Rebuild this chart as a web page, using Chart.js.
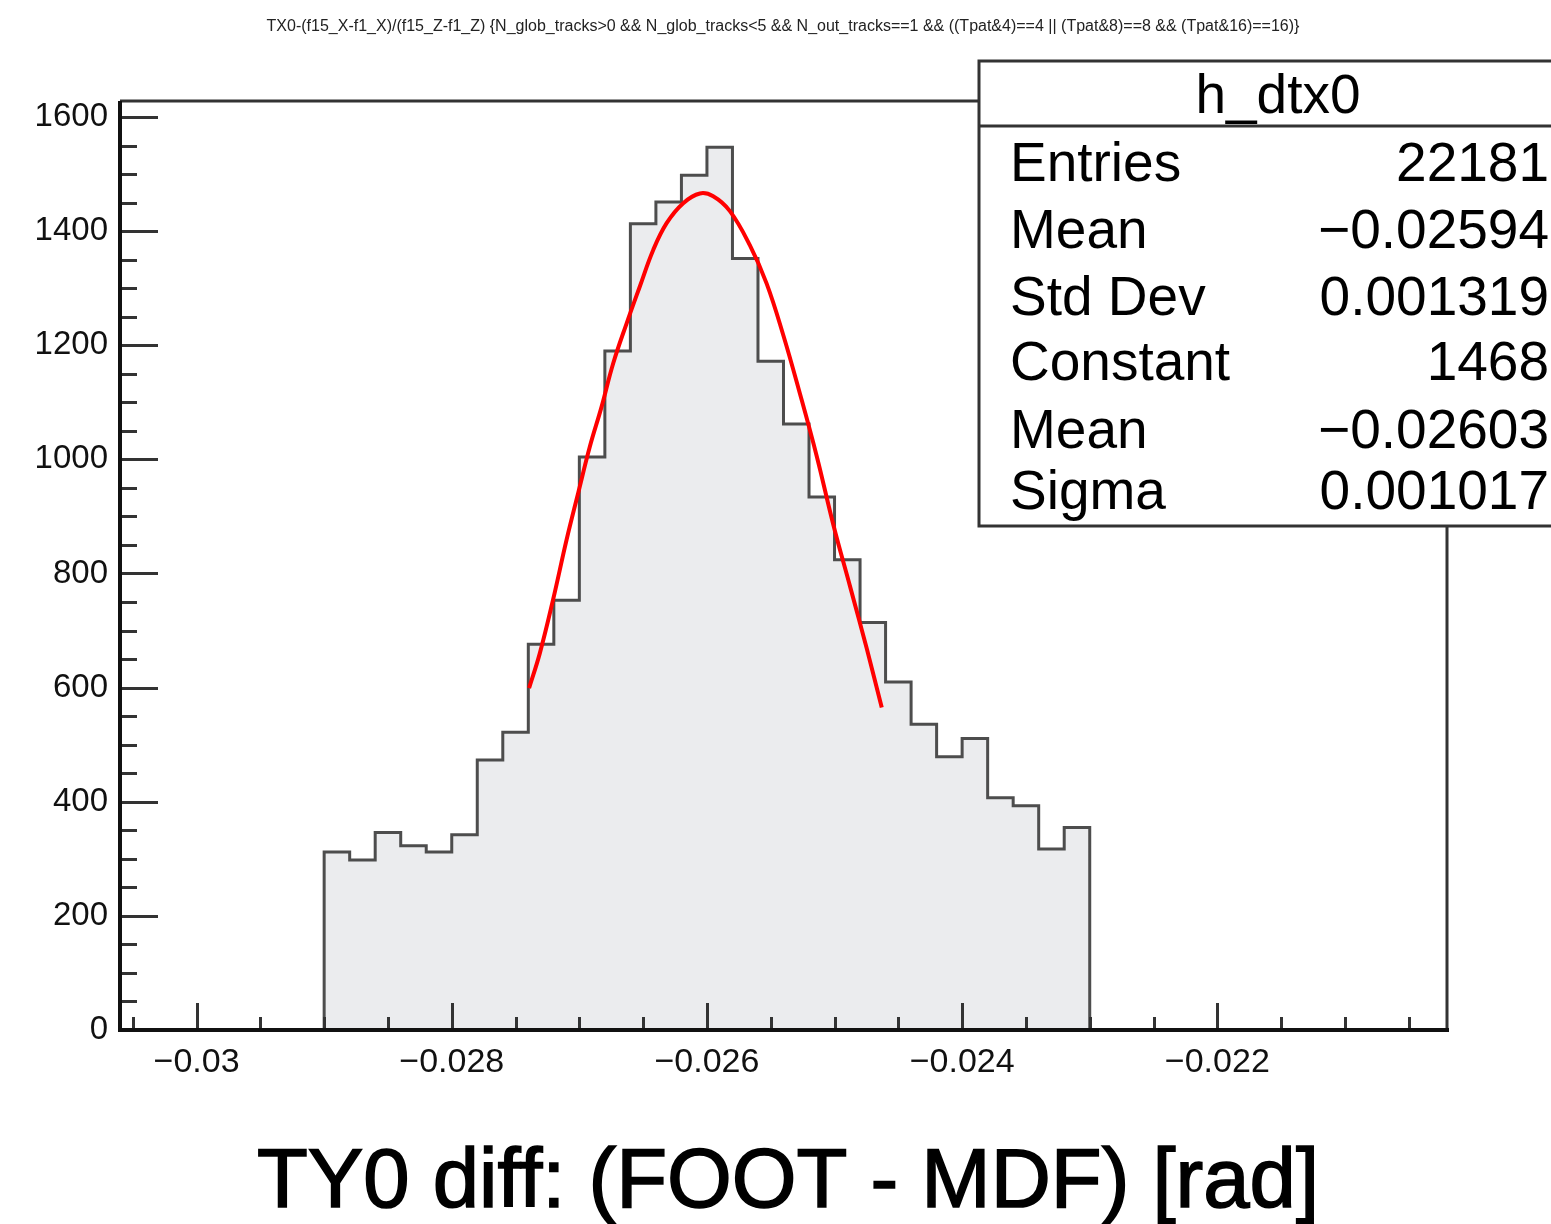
<!DOCTYPE html>
<html>
<head>
<meta charset="utf-8">
<script src="https://cdn.jsdelivr.net/npm/chart.js@4.4.1/dist/chart.umd.min.js"></script>
<style>
  body { margin: 0; background: #fff; }
  #wrap { width: 1551px; height: 1224px; }
</style>
</head>
<body>
<div id="wrap"><canvas id="grafico" width="1551" height="1224"></canvas></div>
<script>
// bin edges of h_dtx0 (bin width 0.0002)
const binEdges = [-0.0290, -0.0288, -0.0286, -0.0284, -0.0282, -0.0280, -0.0278, -0.0276, -0.0274, -0.0272,
                  -0.0270, -0.0268, -0.0266, -0.0264, -0.0262, -0.0260, -0.0258, -0.0256, -0.0254, -0.0252,
                  -0.0250, -0.0248, -0.0246, -0.0244, -0.0242, -0.0240, -0.0238, -0.0236, -0.0234, -0.0232, -0.0230];
const binCounts = [312, 298, 346, 323, 312, 342, 473, 522, 676, 753,
                   1004, 1190, 1413, 1451, 1498, 1547, 1352, 1172, 1062, 934,
                   824, 714, 610, 536, 479, 511, 407, 393, 317, 355];

// red gaussian fit
const fitX = [-0.027394, -0.027310, -0.027206, -0.027100, -0.027009, -0.026918, -0.026826, -0.026735,
              -0.026630, -0.026526, -0.026421, -0.026316, -0.026186, -0.026055, -0.025951, -0.025820,
              -0.025663, -0.025532, -0.025402, -0.025271, -0.025140, -0.025009, -0.024878, -0.024747,
              -0.024630];
const fitY = [599, 660, 754, 859, 941, 1022, 1092, 1168,
              1238, 1303, 1367, 1414, 1449, 1466, 1461, 1435,
              1375, 1308, 1218, 1115, 1006, 885, 777, 668,
              565];

const xTicks = [-0.030, -0.028, -0.026, -0.024, -0.022];
const yTicks = [0, 200, 400, 600, 800, 1000, 1200, 1400, 1600];

const statsTitle = 'h_dtx0';
const statsLabels = ['Entries', 'Mean', 'Std Dev', 'Constant', 'Mean', 'Sigma'];
const statsValues = ['22181', '\u22120.02594', '0.001319', '1468', '\u22120.02603', '0.001017'];

const plotTitle = 'TX0-(f15_X-f1_X)/(f15_Z-f1_Z) {N_glob_tracks>0 && N_glob_tracks<5 && N_out_tracks==1 && ((Tpat&4)==4 || (Tpat&8)==8 && (Tpat&16)==16)}';
const xTitle = 'TY0 diff: (FOOT - MDF) [rad]';

const fonte = '"Liberation Sans", Arial, Helvetica, sans-serif';

// histogram outline: each bin as a flat top, closed down to zero at both ends
const histLine = [{ x: binEdges[0], y: 0 }];
binCounts.forEach((c, i) => {
    histLine.push({ x: binEdges[i], y: c });
    histLine.push({ x: binEdges[i + 1], y: c });
});
histLine.push({ x: binEdges[binEdges.length - 1], y: 0 });

const fitPts = fitX.map((x, i) => ({ x: x, y: fitY[i] }));

function fmtX(v) {
    const s = Math.abs(v).toFixed(3).replace(/0+$/, '');
    return (v < 0 ? '\u2212' : '') + s;
}

const rootPlugin = {
    id: 'rootFrame',
    afterDatasetsDraw(chart) {
        const ctx = chart.ctx;
        const a = chart.chartArea;
        const xs = chart.scales.x, ys = chart.scales.y;
        ctx.save();
        ctx.strokeStyle = '#333';
        ctx.lineWidth = 3;
        // y ticks, pointing inward
        for (let v = 50; v <= ys.max; v += 50) {
            const py = Math.round(ys.getPixelForValue(v)) + 0.5;
            const len = (v % 200 === 0) ? 38 : 17;
            ctx.beginPath(); ctx.moveTo(a.left, py); ctx.lineTo(a.left + len, py); ctx.stroke();
        }
        // x ticks every 0.0005
        for (let k = -61; k <= -41; k++) {
            const v = k * 0.0005;
            const px = Math.round(xs.getPixelForValue(v)) + 0.5;
            if (px < a.left || px > a.right) continue;
            const len = (k % 4 === 0) ? 27 : 13;
            ctx.beginPath(); ctx.moveTo(px, a.bottom); ctx.lineTo(px, a.bottom - len); ctx.stroke();
        }
        // frame
        ctx.beginPath();
        ctx.moveTo(a.left, a.top); ctx.lineTo(a.right, a.top); ctx.lineTo(a.right, a.bottom);
        ctx.stroke();
        ctx.strokeStyle = '#111';
        ctx.lineWidth = 4;
        ctx.beginPath();
        ctx.moveTo(a.left, a.top); ctx.lineTo(a.left, a.bottom); ctx.lineTo(a.right + 2, a.bottom);
        ctx.stroke();
        ctx.restore();
    },
    afterDraw(chart) {
        const ctx = chart.ctx;
        ctx.save();
        ctx.fillStyle = '#222';
        ctx.font = '16px ' + fonte;
        ctx.textAlign = 'center';
        ctx.textBaseline = 'middle';
        ctx.fillText(plotTitle, 783, 27, 1050);

        // x axis title
        ctx.fillStyle = '#000';
        ctx.strokeStyle = '#000';
        ctx.lineWidth = 1.6;
        ctx.font = '84px ' + fonte;
        ctx.textBaseline = 'alphabetic';
        ctx.fillText(xTitle, 788, 1207, 1062);
        ctx.strokeText(xTitle, 788, 1207, 1062);

        // stats box
        const bx = 979, by = 61, bw = 600, bh = 465;
        ctx.fillStyle = '#fff';
        ctx.fillRect(bx, by, bw, bh);
        ctx.strokeStyle = '#333';
        ctx.lineWidth = 3;
        ctx.strokeRect(bx, by, bw, bh);
        ctx.beginPath(); ctx.moveTo(bx, 126); ctx.lineTo(bx + bw, 126); ctx.stroke();

        ctx.fillStyle = '#000';
        ctx.font = '55px ' + fonte;
        ctx.textAlign = 'center';
        ctx.fillText(statsTitle, 1278, 113);
        const base = [181, 248, 315, 380, 448, 509];
        statsLabels.forEach((lab, i) => {
            ctx.textAlign = 'left';
            ctx.fillText(lab, 1010, base[i]);
            ctx.textAlign = 'right';
            ctx.fillText(statsValues[i], 1549, base[i]);
        });
        ctx.restore();
    }
};

new Chart(document.getElementById('grafico'), {
    type: 'line',
    data: {
        datasets: [
            {
                label: 'fit',
                data: fitPts,
                borderColor: '#ff0000',
                borderWidth: 4,
                pointRadius: 0,
                fill: false,
                tension: 0.4,
                order: 0
            },
            {
                label: 'h_dtx0',
                data: histLine,
                borderColor: '#4d4d4d',
                borderWidth: 3,
                backgroundColor: '#ebecee',
                fill: 'origin',
                pointRadius: 0,
                tension: 0,
                order: 1
            }
        ]
    },
    options: {
        responsive: false,
        animation: false,
        devicePixelRatio: 1,
        layout: { padding: { left: 0, top: 101, right: 104, bottom: 0 } },
        plugins: {
            legend: { display: false },
            tooltip: { enabled: false }
        },
        scales: {
            x: {
                type: 'linear',
                min: -0.0306,
                max: -0.0202,
                grid: { display: false },
                border: { display: false },
                afterBuildTicks: function (scale) {
                    scale.ticks = xTicks.map(v => ({ value: v }));
                },
                afterFit: function (scale) { scale.height = 194; },
                ticks: {
                    padding: 4,
                    color: '#111',
                    font: { family: fonte, size: 34 },
                    maxRotation: 0,
                    autoSkip: false,
                    callback: function (v) { return fmtX(v); }
                }
            },
            y: {
                type: 'linear',
                min: 0,
                max: 1628,
                grid: { display: false },
                border: { display: false },
                afterBuildTicks: function (scale) {
                    scale.ticks = yTicks.map(v => ({ value: v }));
                },
                afterFit: function (scale) { scale.width = 120; },
                ticks: {
                    padding: 4,
                    color: '#111',
                    font: { family: fonte, size: 33 },
                    autoSkip: false,
                    callback: function (v) { return String(v); }
                }
            }
        }
    },
    plugins: [rootPlugin]
});
</script>
</body>
</html>
